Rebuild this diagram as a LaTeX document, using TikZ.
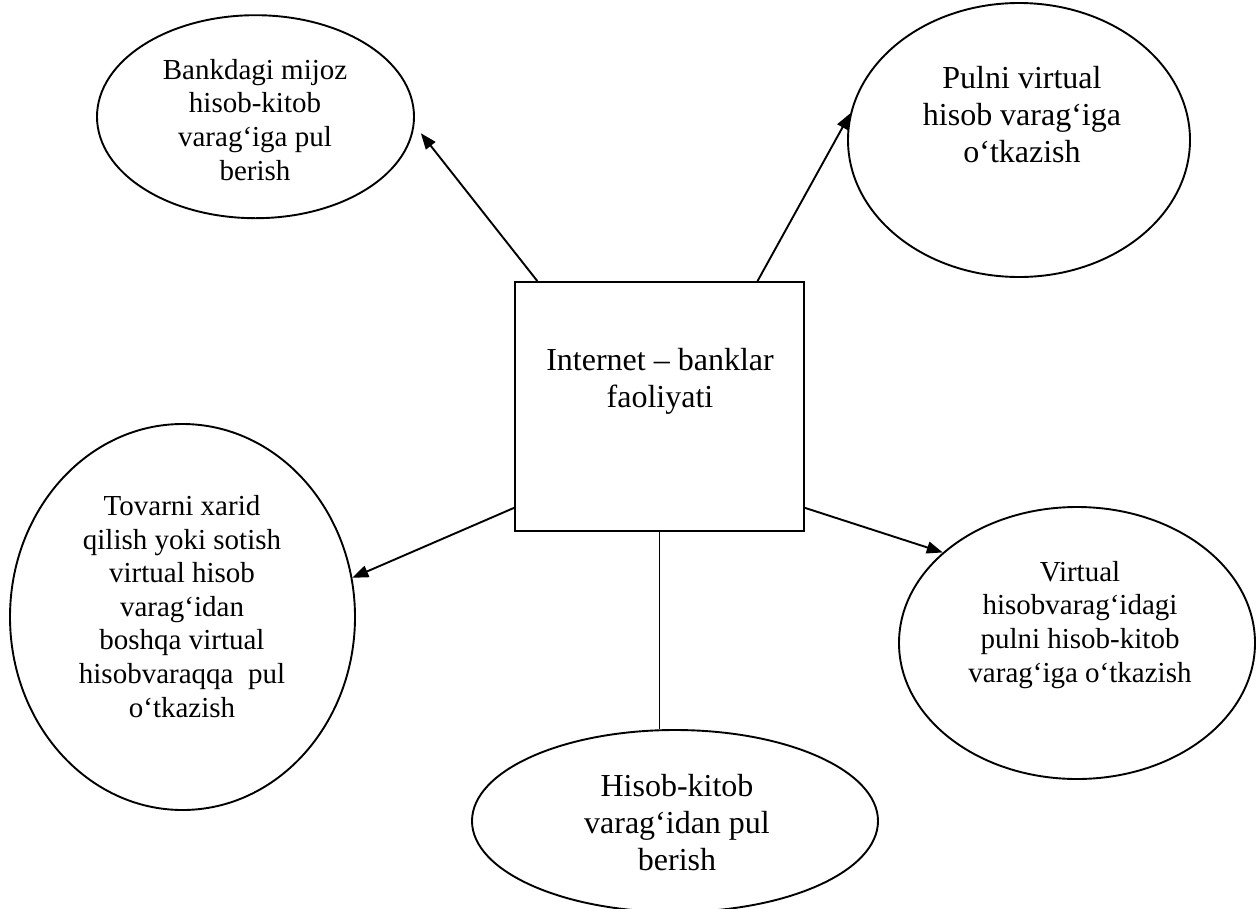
\documentclass[tikz,border=0pt]{standalone}
\usepackage{fontspec}
\setmainfont{Liberation Serif}
\usetikzlibrary{shapes.geometric,arrows.meta,calc}

\tikzset{
  oval/.style={ellipse, draw, line width=1.9pt, inner sep=0pt},
  centerbox/.style={rectangle, draw, line width=1.9pt, inner sep=0pt},
  % multi-line texts are placed by the baseline of their last line
  smalltext/.style={anchor=base, align=center, inner sep=0pt,
    font=\fontsize{29}{33.6}\selectfont},
  bigtext/.style={anchor=base, align=center, inner sep=0pt,
    font=\fontsize{32}{37}\selectfont},
  link/.style={line width=1.9pt},
  arrowlink/.style={line width=1.9pt, -{Triangle[length=16pt,width=12pt]}}
}

\begin{document}
\begin{tikzpicture}[x=1pt, y=-1pt]
  \useasboundingbox (0,0) rectangle (1256,908);
  \clip (0,0) rectangle (1256,908);

  % central box
  \node[centerbox, minimum width=289pt, minimum height=249pt] (box) at (659.5,406.5) {};
  \node[bigtext] (t0) at (660,407) {Internet – banklar\\faoliyati};

  % surrounding ovals
  \node[oval, minimum width=317pt, minimum height=203pt] (e1) at (255.5,116.7) {};
  \node[smalltext] (t1) at (255,180) {Bankdagi mijoz\\hisob-kitob\\varag‘iga pul\\berish};

  \node[oval, minimum width=342pt, minimum height=274pt] (e2) at (1019,140) {};
  \node[bigtext] (t2) at (1022,162) {Pulni virtual\\hisob varag‘iga\\o‘tkazish};

  \node[oval, minimum width=345pt, minimum height=386pt] (e3) at (182.5,617) {};
  \node[smalltext] (t3) at (182,717) {Tovarni xarid\\qilish yoki sotish\\virtual hisob\\varag‘idan\\boshqa virtual\\hisobvaraqqa\ \ pul\\o‘tkazish};

  \node[oval, minimum width=356pt, minimum height=272pt] (e4) at (1077,643) {};
  \node[smalltext] (t4) at (1080,682) {Virtual\\hisobvarag‘idagi\\pulni hisob-kitob\\varag‘iga o‘tkazish};

  \node[oval, minimum width=406pt, minimum height=182pt] (e5) at (675,821) {};
  \node[bigtext] (t5) at (677,870) {Hisob-kitob\\varag‘idan pul\\berish};

  % connectors
  \draw[arrowlink] ($(box.north west)!0.08!(box.north east)$) -- ($(e1.-6)+(8,0)$);
  \draw[arrowlink] ($(box.north west)!0.837!(box.north east)$) -- (e2.171);
  \draw[arrowlink] ($(box.north west)!0.904!(box.south west)$) -- (e3.13);
  \draw[arrowlink] ($(box.north east)!0.904!(box.south east)$) -- (e4.146);
  \draw[link] (box.south) -- (box.south |- e5.north);
\end{tikzpicture}
\end{document}
